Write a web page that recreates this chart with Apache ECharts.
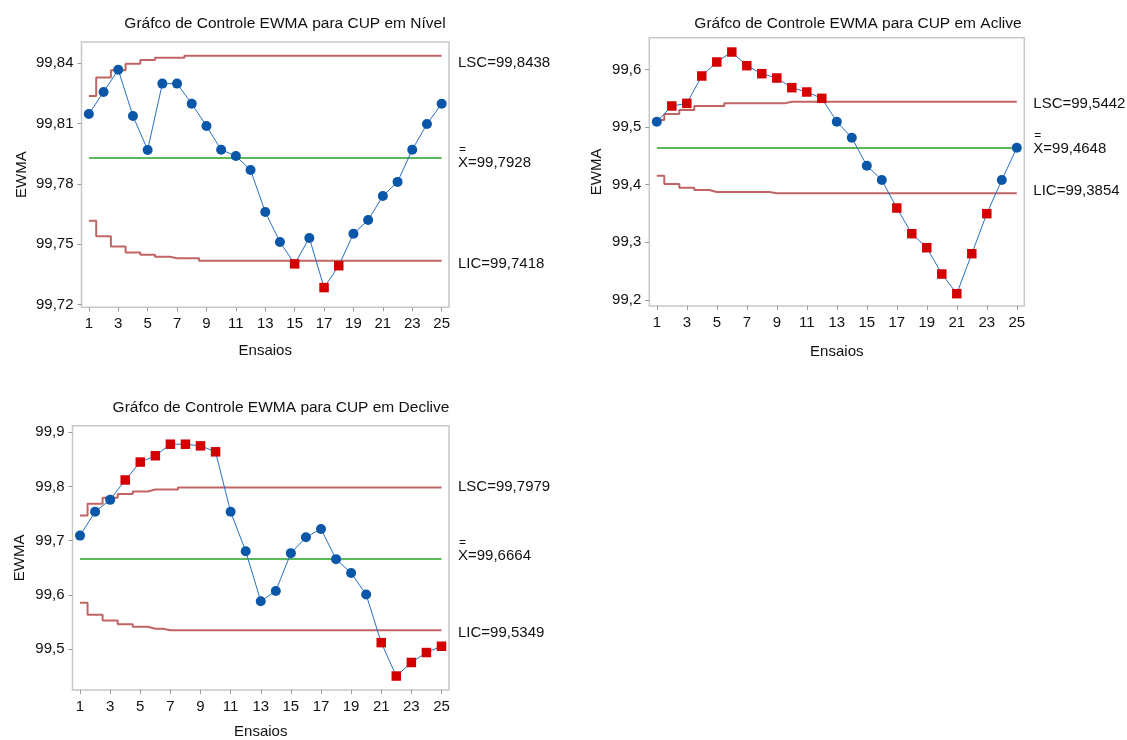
<!DOCTYPE html>
<html>
<head>
<meta charset="utf-8">
<script src="https://cdn.jsdelivr.net/npm/echarts@6/dist/echarts.min.js"></script>
<style>
html,body{margin:0;padding:0;background:#fff;}
#c{width:1127px;height:740px;}
</style>
</head>
<body>
<div id="c"></div>
<script>
// ---- data ----
const ensaios = [1,2,3,4,5,6,7,8,9,10,11,12,13,14,15,16,17,18,19,20,21,22,23,24,25];
const xTicks = [1,3,5,7,9,11,13,15,17,19,21,23,25];

// Chart 1: CUP em Nível
const nivelTitle = 'Gráfco de Controle EWMA para CUP em Nível';
const nivelEWMA = [99.8148,99.8257,99.8368,99.8138,99.7969,99.8299,99.8299,99.8199,99.8088,99.7970,99.7939,99.7869,99.7660,99.7511,99.7402,99.7531,99.7284,99.7393,99.7552,99.7620,99.7740,99.7810,99.7970,99.8098,99.8199];
const nivelLSCsteps = [99.8237,99.8329,99.8365,99.8398,99.8416,99.8428,99.8428,99.8438,99.8438,99.8438,99.8438,99.8438,99.8438,99.8438,99.8438,99.8438,99.8438,99.8438,99.8438,99.8438,99.8438,99.8438,99.8438,99.8438,99.8438];
const nivelLICsteps = [99.7617,99.7539,99.7489,99.7459,99.7448,99.7438,99.7430,99.7430,99.7418,99.7418,99.7418,99.7418,99.7418,99.7418,99.7418,99.7418,99.7418,99.7418,99.7418,99.7418,99.7418,99.7418,99.7418,99.7418,99.7418];
const nivelAlarm = [15,17,18];
const nivelLSC = 99.8438, nivelCenter = 99.7928, nivelLIC = 99.7418;
const nivelYTicks = [99.72,99.75,99.78,99.81,99.84];

// Chart 2: CUP em Aclive
const acliveTitle = 'Gráfco de Controle EWMA para CUP em Aclive';
const acliveEWMA = [99.5095,99.5367,99.5413,99.5888,99.6131,99.6304,99.6067,99.5928,99.5853,99.5685,99.5610,99.5500,99.5095,99.4817,99.4331,99.4082,99.3596,99.3150,99.2907,99.2450,99.2109,99.2803,99.3498,99.4082,99.4643];
const acliveLSCsteps = [99.5124,99.5228,99.5297,99.5367,99.5367,99.5413,99.5413,99.5413,99.5413,99.5442,99.5442,99.5442,99.5442,99.5442,99.5442,99.5442,99.5442,99.5442,99.5442,99.5442,99.5442,99.5442,99.5442,99.5442,99.5442];
const acliveLICsteps = [99.4157,99.4013,99.3949,99.3908,99.3874,99.3874,99.3874,99.3874,99.3854,99.3854,99.3854,99.3854,99.3854,99.3854,99.3854,99.3854,99.3854,99.3854,99.3854,99.3854,99.3854,99.3854,99.3854,99.3854,99.3854];
const acliveAlarm = [2,3,4,5,6,7,8,9,10,11,12,17,18,19,20,21,22,23];
const acliveLSC = 99.5442, acliveCenter = 99.4648, acliveLIC = 99.3854;
const acliveYTicks = [99.2,99.3,99.4,99.5,99.6];

// Chart 3: CUP em Declive
const declTitle = 'Gráfco de Controle EWMA para CUP em Declive';
const declEWMA = [99.7094,99.7534,99.7753,99.8119,99.8449,99.8565,99.8778,99.8778,99.8748,99.8638,99.7534,99.6807,99.5886,99.6075,99.6771,99.7064,99.7216,99.6661,99.6405,99.6008,99.5123,99.4507,99.4757,99.4940,99.5056];
const declLSCsteps = [99.7466,99.7680,99.7790,99.7863,99.7906,99.7942,99.7942,99.7979,99.7979,99.7979,99.7979,99.7979,99.7979,99.7979,99.7979,99.7979,99.7979,99.7979,99.7979,99.7979,99.7979,99.7979,99.7979,99.7979,99.7979];
const declLICsteps = [99.5856,99.5636,99.5532,99.5459,99.5416,99.5380,99.5349,99.5349,99.5349,99.5349,99.5349,99.5349,99.5349,99.5349,99.5349,99.5349,99.5349,99.5349,99.5349,99.5349,99.5349,99.5349,99.5349,99.5349,99.5349];
const declAlarm = [4,5,6,7,8,9,10,21,22,23,24,25];
const declLSC = 99.7979, declCenter = 99.6664, declLIC = 99.5349;
const declYTicks = [99.5,99.6,99.7,99.8,99.9];

// ---- styling / layout ----
const FONT = 'Liberation Sans, Arial, sans-serif';
const C_LINE = '#2a6fc4', C_DOT = '#0a56a8', C_ALARM = '#d40000';
const C_LIMIT = '#c06464', C_CENTER = '#5cb85c', C_FRAME = '#c8c8c8';
const fmt = (v, d) => v.toFixed(d).replace('.', ',');

const panels = [
  {title: nivelTitle, ewma: nivelEWMA, lsc: nivelLSCsteps, lic: nivelLICsteps, alarm: nivelAlarm,
   LSC: nivelLSC, C: nivelCenter, LIC: nivelLIC, yTicks: nivelYTicks, yDec: 2,
   grid: {left: 81.5, top: 42, width: 367.5, height: 265.3}, yMin: 99.7186, yMax: 99.8506,
   titlePos: {x: 280, y: 11}, nameGapY: 52, nameGapX: 36},
  {title: acliveTitle, ewma: acliveEWMA, lsc: acliveLSCsteps, lic: acliveLICsteps, alarm: acliveAlarm,
   LSC: acliveLSC, C: acliveCenter, LIC: acliveLIC, yTicks: acliveYTicks, yDec: 1,
   grid: {left: 649.3, top: 37.8, width: 375, height: 268.2}, yMin: 99.1895, yMax: 99.6551,
   titlePos: {x: 853, y: 11}, nameGapY: 45, nameGapX: 38},
  {title: declTitle, ewma: declEWMA, lsc: declLSCsteps, lic: declLICsteps, alarm: declAlarm,
   LSC: declLSC, C: declCenter, LIC: declLIC, yTicks: declYTicks, yDec: 1,
   grid: {left: 72.5, top: 425.7, width: 376.5, height: 266}, yMin: 99.425, yMax: 99.9119,
   titlePos: {x: 276, y: 395}, nameGapY: 45, nameGapX: 34}
];

const option = {animation: false, title: [], grid: [], xAxis: [], yAxis: [], series: []};

panels.forEach((p, i) => {
  option.title.push({text: p.title, left: p.titlePos.x, top: p.titlePos.y, textAlign: 'center',
    textStyle: {fontFamily: FONT, fontSize: 15.5, fontWeight: 'normal', color: '#111'}});
  option.grid.push(Object.assign({show: true, borderColor: C_FRAME, borderWidth: 1.5, backgroundColor: '#fff', containLabel: false}, p.grid));
  option.xAxis.push({type: 'value', gridIndex: i, min: 0.5, max: 25.5,
    name: 'Ensaios', nameLocation: 'middle', nameGap: p.nameGapX,
    nameTextStyle: {fontFamily: FONT, fontSize: 15, color: '#111'},
    axisLine: {show: false}, splitLine: {show: false},
    axisTick: {show: true, customValues: xTicks, length: 4, lineStyle: {color: '#999'}},
    axisLabel: {customValues: xTicks, margin: 9, fontFamily: FONT, fontSize: 15, color: '#111'}});
  option.yAxis.push({type: 'value', gridIndex: i, min: p.yMin, max: p.yMax,
    name: 'EWMA', nameLocation: 'middle', nameGap: p.nameGapY,
    nameTextStyle: {fontFamily: FONT, fontSize: 15, color: '#111'},
    axisLine: {show: false}, splitLine: {show: false},
    axisTick: {show: true, customValues: p.yTicks, length: 4, lineStyle: {color: '#999'}},
    axisLabel: {customValues: p.yTicks, margin: 8, fontFamily: FONT, fontSize: 15, color: '#111',
      formatter: v => fmt(v, p.yDec)}});

  const stepSeries = (arr) => ({type: 'line', xAxisIndex: i, yAxisIndex: i, step: 'middle', symbol: 'none',
    silent: true, z: 2, lineStyle: {color: C_LIMIT, width: 2}, data: ensaios.map((x, k) => [x, arr[k]])});
  option.series.push(stepSeries(p.lsc));
  const licS = stepSeries(p.lic);
  const hidden = {color: 'rgba(0,0,0,0)', width: 0, type: 'solid'};
  const lab = {show: true, position: 'end', distance: 9, fontFamily: FONT, fontSize: 15, color: '#111',
    verticalAlign: 'middle', align: 'left'};
  licS.markLine = {silent: true, symbol: ['none', 'none'], animation: false,
    data: [
      [{coord: [ensaios[0], p.C], lineStyle: {color: C_CENTER, width: 2, type: 'solid'}, label: {show: false}},
       {coord: [ensaios[ensaios.length - 1], p.C]}],
      {yAxis: p.LSC, lineStyle: hidden, label: Object.assign({}, lab, {formatter: 'LSC=' + fmt(p.LSC, 4)})},
      {yAxis: p.LIC, lineStyle: hidden, label: Object.assign({}, lab, {formatter: 'LIC=' + fmt(p.LIC, 4)})},
      {yAxis: p.C, lineStyle: hidden, label: Object.assign({}, lab, {
        formatter: '{b|=}\n{t|X=' + fmt(p.C, 4) + '}', offset: [0, -6],
        rich: {b: {fontFamily: FONT, fontSize: 12, lineHeight: 10, color: '#111', padding: [0, 0, 0, 1]},
               t: {fontFamily: FONT, fontSize: 15, lineHeight: 17, color: '#111'}}})}
    ]};
  option.series.push(licS);

  option.series.push({type: 'line', xAxisIndex: i, yAxisIndex: i, z: 5,
    lineStyle: {color: C_LINE, width: 1},
    data: ensaios.map((x, k) => {
      const a = p.alarm.includes(x);
      return {value: [x, p.ewma[k]], symbol: a ? 'rect' : 'circle', symbolSize: a ? 9.5 : 10,
        itemStyle: {color: a ? C_ALARM : C_DOT}};
    })});
});

const chart = echarts.init(document.getElementById('c'), null, {renderer: 'canvas'});
chart.setOption(option);
</script>
</body>
</html>
